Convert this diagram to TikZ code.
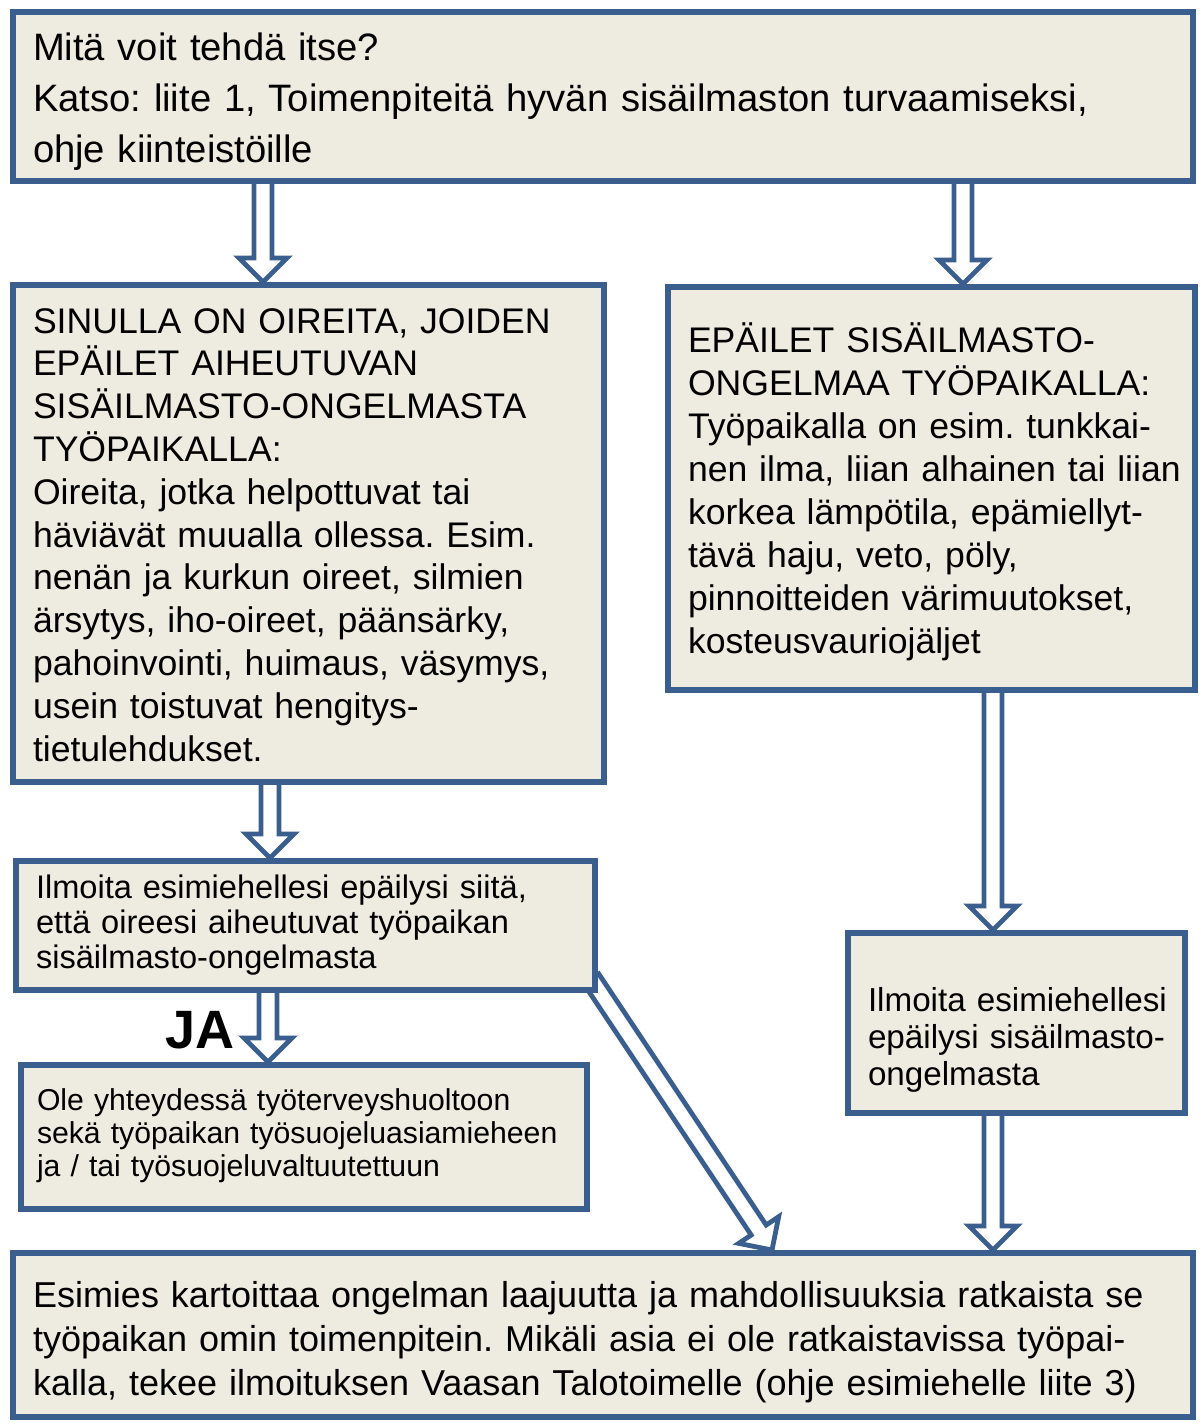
\documentclass[tikz,border=0pt]{standalone}
\usepackage{fontspec}
\setmainfont{Liberation Sans}
\usepackage{tikz}
\usetikzlibrary{calc}
\usetikzlibrary{positioning}
\usetikzlibrary{backgrounds}
\definecolor{boxblue}{HTML}{3A5F8E}
\definecolor{boxfill}{HTML}{EEECE1}
\frenchspacing
\tikzset{
  box/.style={draw=boxblue, line width=3pt, fill=boxfill, inner xsep=10pt, inner ysep=4pt, align=left},
  flowarrow/.style={draw=boxblue, line width=2.4pt, fill=white, line join=miter},
}
% lines of a box, set as they are, lowered by #1
\newcommand{\boxtext}[2][0pt]{\raisebox{-#1}[\height][\depth]{\begin{tabular}{@{}l@{}}#2\end{tabular}}}
% hollow block arrow from #1 to #2
\newcommand{\hollowarrow}[2]{%
  \coordinate (ah) at ($(#2)!12pt!(#1)$);
  \draw[flowarrow] ($(#1)!4.5pt!90:(#2)$) -- ($(ah)!4.5pt!90:(#2)$) -- ($(ah)!12pt!90:(#2)$) -- (#2)
    -- ($(ah)!12pt!-90:(#2)$) -- ($(ah)!4.5pt!-90:(#2)$) -- ($(#1)!4.5pt!-90:(#2)$);
}
\begin{document}
\begin{tikzpicture}[x=0.5pt, y=-0.5pt]
\useasboundingbox (0,0) rectangle (1204,1426);

\node [box, text width=570pt, minimum height=81pt, font=\fontsize{19.1pt}{25.5pt}\selectfont] (yla) at (603, 96)
  {\boxtext[2.5pt]{Mitä voit tehdä itse?\\Katso: liite 1, Toimenpiteitä hyvän sisäilmaston turvaamiseksi,\\ohje kiinteistöille}};
\node [box, text width=275.5pt, minimum height=248.5pt, font=\fontsize{17.8pt}{21.4pt}\selectfont] (oireet) at (308.5, 533.5)
  {\boxtext[2.5pt]{SINULLA ON OIREITA, JOIDEN\\EPÄILET AIHEUTUVAN\\SISÄILMASTO-ONGELMASTA\\TYÖPAIKALLA:\\Oireita, jotka helpottuvat tai\\häviävät muualla ollessa. Esim.\\nenän ja kurkun oireet, silmien\\ärsytys, iho-oireet, päänsärky,\\pahoinvointi, huimaus, väsymys,\\usein toistuvat hengitys-\\tietulehdukset.}};
\node [box, text width=243.5pt, minimum height=201.5pt, font=\fontsize{17.8pt}{21.5pt}\selectfont] (epailet) at (931.5, 488.5)
  {\boxtext[3pt]{EPÄILET SISÄILMASTO-\\ONGELMAA TYÖPAIKALLA:\\Työpaikalla on esim. tunkkai-\\nen ilma, liian alhainen tai liian\\korkea lämpötila, epämiellyt-\\tävä haju, veto, pöly,\\pinnoitteiden värimuutokset,\\kosteusvauriojäljet}};
\node [box, text width=269.5pt, minimum height=64.5pt, font=\fontsize{16.3pt}{17.6pt}\selectfont] (ilmoita) at (305.5, 925.5)
  {\boxtext[0.5pt]{Ilmoita esimiehellesi epäilysi siitä,\\että oireesi aiheutuvat työpaikan\\sisäilmasto-ongelmasta}};
\node [box, text width=267pt, inner xsep=8pt, minimum height=72pt, font=\fontsize{15.1pt}{16.5pt}\selectfont] (yhteys) at (304, 1137)
  {\boxtext{Ole yhteydessä työterveyshuoltoon\\sekä työpaikan työsuojeluasiamieheen\\ja / tai työsuojeluvaltuutettuun}};
\node [box, text width=148.5pt, minimum height=90pt, font=\fontsize{16.6pt}{18.5pt}\selectfont] (ilmoitab) at (1016.5, 1023)
  {\boxtext[9pt]{Ilmoita esimiehellesi\\epäilysi sisäilmasto-\\ongelmasta}};
\node [box, text width=570pt, minimum height=82pt, font=\fontsize{18pt}{22pt}\selectfont] (kartoitus) at (603, 1335)
  {\boxtext[4pt]{Esimies kartoittaa ongelman laajuutta ja mahdollisuuksia ratkaista se\\työpaikan omin toimenpitein. Mikäli asia ei ole ratkaistavissa työpai-\\kalla, tekee ilmoituksen Vaasan Talotoimelle (ohje esimiehelle liite 3)}};
\node [font=\bfseries\fontsize{27pt}{30pt}\selectfont, inner sep=0pt] (ja) at (200, 1030) {JA};

% arrow ends
\coordinate (a1) at (yla.south -| 263,0);
\coordinate (b1) at (oireet.north -| 263,0);
\coordinate (a2) at (yla.south -| 963,0);
\coordinate (b2) at (epailet.north -| 963,0);
\coordinate (a3) at (oireet.south -| 270,0);
\coordinate (b3) at (ilmoita.north -| 270,0);
\coordinate (a4) at (ilmoita.south -| 268,0);
\coordinate (b4) at (yhteys.north -| 268,0);
\coordinate[xshift=-4pt, yshift=8pt] (a5) at (ilmoita.south east);
\coordinate (b5) at (kartoitus.north -| 772,0);
\coordinate (a6) at (epailet.south -| 993,0);
\coordinate (b6) at (ilmoitab.north -| 993,0);
\coordinate (a7) at (ilmoitab.south -| 993,0);
\coordinate (b7) at (kartoitus.north -| 993,0);

\begin{pgfonlayer}{background}
\hollowarrow{a1}{b1}
\hollowarrow{a2}{b2}
\hollowarrow{a3}{b3}
\hollowarrow{a4}{b4}
\hollowarrow{a5}{b5}
\hollowarrow{a6}{b6}
\hollowarrow{a7}{b7}
\end{pgfonlayer}
\end{tikzpicture}
\end{document}
